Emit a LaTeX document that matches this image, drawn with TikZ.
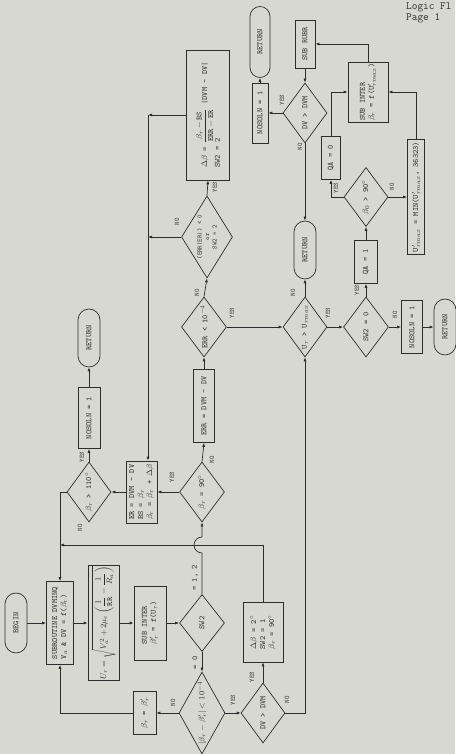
\documentclass[tikz,border=0pt]{standalone}
\usepackage{fontspec}
\usepackage{amsmath}
\usepackage{tikz}
\usetikzlibrary{arrows.meta,positioning,shapes.geometric,shapes.misc,calc}

\definecolor{paper}{RGB}{216,216,211}
\definecolor{ink}{RGB}{45,45,45}
\newcommand{\flowfont}{\fontsize{8}{9}\selectfont\ttfamily}

\begin{document}
\begin{tikzpicture}[
  x=1pt, y=1pt,
  every node/.style={font=\flowfont, text=ink},
  box/.style={draw=ink, line width=0.7pt, rectangle, inner sep=1pt, align=left},
  term/.style={draw=ink, line width=0.7pt, rounded rectangle, inner sep=1pt},
  dec/.style={draw=ink, line width=0.7pt, diamond, aspect=1.7, inner sep=0pt, align=center},
  sz/.style 2 args={minimum width=#1pt, minimum height=#2pt},
  lbl/.style={font=\fontsize{6.5}{7}\selectfont\ttfamily, inner sep=0pt},
  arr/.style={draw=ink, line width=0.7pt, -{Latex[length=4pt,width=3pt]}},
  wire/.style={draw=ink, line width=0.7pt}
]
  \fill[paper] (0,0) rectangle (455,754);
  \useasboundingbox (0,0) rectangle (455,754);

  \node[anchor=north west, align=left, inner sep=0pt,
        font=\fontsize{11}{11}\selectfont\ttfamily] (page) at (406,751) {Logic Fl\\Page 1};

  % the chart is laid out flowing downwards, then turned on its side
  \begin{scope}[rotate=90, transform shape]
  % start and first steps
  \node[term, sz={62}{22}] (begin) at (131,-16) {BEGIN};
  \node[box, sz={83}{27}] (subr) at (131,-60) {SUBROUTINE DVMINQ\\V$_a$ \& DV = f($\beta_r$)};
  \node[box, sz={103}{31}] (urbox) at (131,-103.5)
    {$U_r = \sqrt{V_a^2 + 2\mu_e\left(\dfrac{1}{\mathtt{RR}} - \dfrac{1}{R_a}\right)}$};
  \node[box, sz={74}{32}] (interB) at (131,-150) {SUB INTER\\$\beta'_r$ = f(U$_r$)};
  \node[dec, sz={57}{45}] (sw2) at (131,-202) {SW2};

  % SW2 = 0 branch
  \node[dec, sz={82}{46}] (betatol) at (41,-202) {$|\beta_r - \beta'_r| < 10^{-4}$};
  \node[box, sz={43}{23}] (betabox) at (41,-144.5) {$\beta_r$ = $\beta'_r$};
  \node[dec, sz={60}{44}] (dvB) at (41,-263) {DV > DVM};
  \node[box, sz={60}{40}] (dbox) at (122,-263) {$\Delta\beta$ = 2$^\circ$\\SW2 = 1\\$\beta_r$ = 90$^\circ$};

  % SW2 = 1, 2 branch
  \node[dec, sz={60}{45}] (beta90) at (262,-202) {$\beta_r$ = 90$^\circ$};
  \node[box, sz={62}{31}] (erbox) at (262,-141.5)
    {ER = DVM - DV\\BS = $\beta_r$\\$\beta_r$ = $\beta_r$ + $\Delta\beta$};
  \node[dec, sz={60}{44}] (beta110) at (262,-89) {$\beta_r$ > 110$^\circ$};
  \node[box, sz={61}{22}] (nosolnC) at (336,-89) {NOSOLN = 1};
  \node[term, sz={60}{22}] (retD) at (416,-89) {RETURN};
  \node[box, sz={73}{21}] (errbox) at (348,-204) {ERR = DVM - DV};
  \node[dec, sz={60}{45}] (errtol) at (427,-204) {ERR < 10$^{-4}$};
  \node[dec, sz={82}{51}, font=\fontsize{6.5}{7.5}\selectfont\ttfamily] (errsign) at (517,-207)
    {(ERR|ER|) < 0\\or\\SW2 = 2};
  \node[box, sz={130}{43}] (delta) at (639,-208)
    {$\Delta\beta$ = $\dfrac{\beta_r - \mathtt{BS}}{\mathtt{ERR} - \mathtt{ER}}$ |DVM - DV|\\SW2 = 2};

  % velocity limit checks
  \node[dec, sz={60}{44}] (urtest) at (427,-305) {U$_r$ > U$_{rmax}$};
  \node[term, sz={60}{22}] (retB) at (504,-305) {RETURN};
  \node[dec, sz={60}{45}] (sw2zero) at (427,-366) {SW2 = 0};
  \node[box, sz={53}{21}] (nosolnB) at (427,-412) {NOSOLN = 1};
  \node[term, sz={58}{22}] (retC) at (427,-445) {RETURN};
  \node[box, sz={43}{23}] (qa1) at (492,-366) {QA = 1};
  \node[dec, sz={59}{44}] (beta0) at (557,-366) {$\beta_0$ > 90$^\circ$};
  \node[box, sz={43}{19}] (qa0) at (596,-331) {QA = 0};
  \node[box, sz={115}{17}] (umin) at (557,-416) {U$'_{rmax}$ = MIN(U$'_{rmax}$, 36323)};
  \node[box, sz={60}{40}] (interA) at (662,-368) {SUB INTER\\$\beta_r$ = f(U$'_{rmax}$)};
  \node[box, sz={48}{20}] (subrubr) at (710,-305) {SUB RUBR};
  \node[dec, sz={60}{44}] (dvA) at (641,-305) {DV > DVM};
  \node[box, sz={60}{16}] (nosolnA) at (641,-260) {NOSOLN = 1};
  \node[term, sz={73}{20}] (retA) at (712,-260) {RETURN};

  % branch labels
  \node[lbl] (l12) at (176,-195) {\flowfont = 1, 2};
  \node[lbl] (l0) at (91,-195) {\flowfont = 0};
  \node[lbl] (nTol) at (51,-173) {NO};
  \node[lbl] (yTol) at (54,-233) {YES};
  \node[lbl] (yDvB) at (77,-252) {YES};
  \node[lbl] (nDvB) at (54,-287) {NO};
  \node[lbl] (y90) at (277,-172) {YES};
  \node[lbl] (n90) at (294,-212) {NO};
  \node[lbl] (y110) at (297,-82) {YES};
  \node[lbl] (n110) at (226,-80) {NO};
  \node[lbl] (nErr) at (461,-197) {NO};
  \node[lbl] (yErr) at (441,-232) {YES};
  \node[lbl] (ySign) at (567,-215) {YES};
  \node[lbl] (nSign) at (532,-177) {NO};
  \node[lbl] (nUr) at (461,-293) {NO};
  \node[lbl] (yUr) at (441,-328) {YES};
  \node[lbl] (ySw) at (464,-357) {YES};
  \node[lbl] (nSw) at (439,-395) {NO};
  \node[lbl] (yB0) at (566,-336) {YES};
  \node[lbl] (nB0) at (567,-392) {NO};
  \node[lbl] (yDvA) at (654,-282) {YES};
  \node[lbl] (nDvA) at (607,-300) {NO};

  % junction points
  \coordinate (mg) at (209,-60);
  \coordinate (jn) at (639,-148);
  \coordinate (hop) at (201,-202);

  % connectors
  \draw[arr] (begin.south) -- (subr.north);
  \draw[arr] (subr.south) -- (urbox.north);
  \draw[arr] (urbox.south) -- (interB.north);
  \draw[arr] (interB.south) -- (sw2.north);
  \draw[arr] (sw2.west) -- (betatol.east);
  \draw[arr] (betatol.north) -- (betabox.south);
  \draw[arr] (betabox.north) |- (subr.west);
  \draw[arr] (betatol.south) -- (dvB.north);
  \draw[arr] (dvB.east) -- (dbox.west);
  \draw[arr] (dvB.south) |- (urtest.west);
  \draw[arr] (dbox.east) -| (mg);
  \draw[wire] (beta110.north) |- (mg);
  \draw[arr] (mg) -- (subr.east);
  \draw[arr] (sw2.east) -- (hop) arc[start angle=180, end angle=0, radius=8] -- (beta90.west);
  \draw[arr] (beta90.north) -- (erbox.south);
  \draw[arr] (erbox.north) -- (beta110.south);
  \draw[arr] (beta110.east) -- (nosolnC.west);
  \draw[arr] (nosolnC.east) -- (retD.west);
  \draw[arr] (beta90.east) -- (errbox.west);
  \draw[arr] (errbox.east) -- (errtol.west);
  \draw[arr] (errtol.east) -- (errsign.west);
  \draw[arr] (errtol.south) -- (urtest.north);
  \draw[arr] (errsign.east) -- (delta.west);
  \draw[arr] (errsign.north) -- (errsign.north |- jn);
  \draw[arr] (delta.north) -- (jn);
  \draw[arr] (jn) -- (erbox.east |- jn);
  \draw[arr] (urtest.east) -- (retB.west);
  \draw[arr] (urtest.south) -- (sw2zero.north);
  \draw[arr] (dvA.west) -- (retB.east);
  \draw[arr] (subrubr.west) -- (dvA.east);
  \draw[arr] (dvA.north) -- (nosolnA.south);
  \draw[arr] (nosolnA.east) -- (retA.west);
  \draw[arr] (sw2zero.east) -- (qa1.west);
  \draw[arr] (sw2zero.south) -- (nosolnB.north);
  \draw[arr] (nosolnB.south) -- (retC.north);
  \draw[arr] (qa1.east) -- (beta0.west);
  \draw[arr] (beta0.north) |- (qa0.west);
  \draw[arr] (beta0.south) -- (umin.north);
  \draw[arr] (umin.east) -| (interA.south);
  \draw[arr] (qa0.east) -| (interA.north);
  \draw[arr] (interA.east) -| (subrubr.south);
  \end{scope}
\end{tikzpicture}
\end{document}
